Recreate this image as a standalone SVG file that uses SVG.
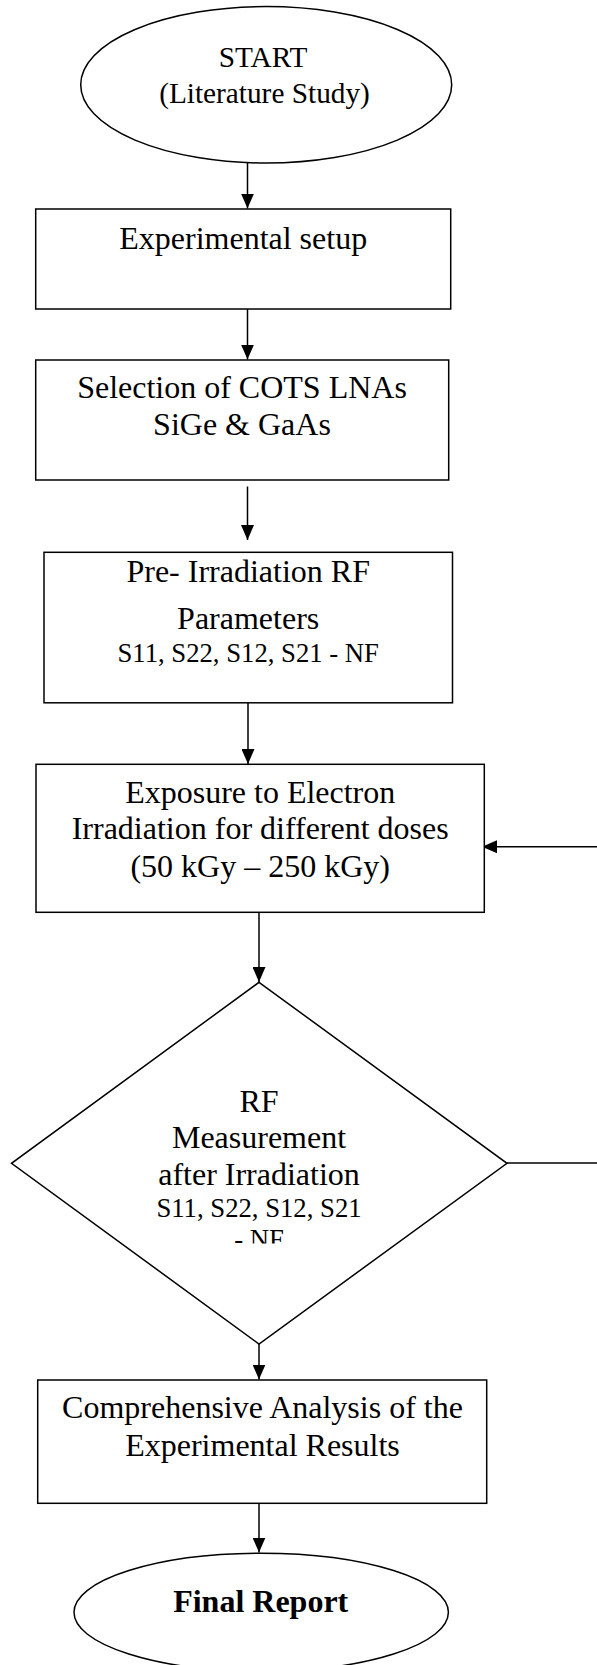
<svg xmlns="http://www.w3.org/2000/svg" width="597" height="1665" viewBox="0 0 597 1665">
<style>
  .shape { fill: #ffffff; stroke: #000000; stroke-width: 1.5; }
  .conn { fill: none; stroke: #000000; stroke-width: 1.5; }
  .t { font-family: "Liberation Serif", "Times New Roman", serif; fill: #000000; text-anchor: middle; }
  .big { font-size: 32px; }
  .mid { font-size: 29.3px; }
  .small { font-size: 26.7px; }
  .bold { font-weight: bold; }
</style>
<defs>
  <marker id="arrow" markerUnits="userSpaceOnUse" markerWidth="15" markerHeight="13" refX="15" refY="6.5" orient="auto">
    <path d="M0,0 L15,6.5 L0,13 Z" fill="#000000"/>
  </marker>
  <clipPath id="diamondTextClip">
    <rect x="100" y="1070" width="320" height="173.5"/>
  </clipPath>
</defs>
<rect x="0" y="0" width="597" height="1665" fill="#ffffff"/>

<g id="connectors">
  <path class="conn" d="M247.5,163 V208.5" marker-end="url(#arrow)"/>
  <path class="conn" d="M247.5,309 V359.5" marker-end="url(#arrow)"/>
  <path class="conn" d="M247.5,486.5 V540" marker-end="url(#arrow)"/>
  <path class="conn" d="M248,703 V764" marker-end="url(#arrow)"/>
  <path class="conn" d="M259,912.5 V982" marker-end="url(#arrow)"/>
  <path class="conn" d="M259,1344 V1379.5" marker-end="url(#arrow)"/>
  <path class="conn" d="M259,1503.5 V1552.5" marker-end="url(#arrow)"/>
  <path class="conn" d="M598,846.7 H482" marker-end="url(#arrow)"/>
  <path class="conn" d="M507,1163 H598"/>
</g>

<g id="start">
  <ellipse class="shape" cx="266.2" cy="84.8" rx="185.5" ry="78.2"/>
  <text class="t mid" x="263" y="66.7">START</text>
  <text class="t mid" x="264.5" y="103.3">(Literature Study)</text>
</g>

<g id="experimental-setup">
  <rect class="shape" x="35.7" y="209" width="415" height="100"/>
  <text class="t big" x="243.2" y="249">Experimental setup</text>
</g>

<g id="selection">
  <rect class="shape" x="35.7" y="360" width="413" height="120"/>
  <text class="t big" x="242" y="398.3">Selection of COTS LNAs</text>
  <text class="t big" x="242" y="435">SiGe &amp; GaAs</text>
</g>

<g id="pre-irradiation">
  <rect class="shape" x="44" y="552.3" width="408.5" height="150.5"/>
  <text class="t big" x="248.2" y="581.7">Pre- Irradiation RF</text>
  <text class="t big" x="248.2" y="629.3">Parameters</text>
  <text class="t small" x="248.2" y="661.7">S11, S22, S12, S21 - NF</text>
</g>

<g id="exposure">
  <rect class="shape" x="36" y="764.3" width="448.3" height="148"/>
  <text class="t big" x="260.2" y="802.7">Exposure to Electron</text>
  <text class="t big" x="260.2" y="839.3">Irradiation for different doses</text>
  <text class="t big" x="260.2" y="876.7">(50 kGy – 250 kGy)</text>
</g>

<g id="rf-measurement">
  <polygon class="shape" points="259,982.3 507,1163.3 259,1344 11.5,1163.3"/>
  <text class="t big" x="259" y="1111.7">RF</text>
  <text class="t big" x="259" y="1148.3">Measurement</text>
  <text class="t big" x="259" y="1185">after Irradiation</text>
  <text class="t small" x="259" y="1216.7">S11, S22, S12, S21</text>
  <g clip-path="url(#diamondTextClip)">
    <text class="t small" x="259" y="1247.5">- NF</text>
  </g>
</g>

<g id="analysis">
  <rect class="shape" x="37.7" y="1380" width="449" height="123.3"/>
  <text class="t big" x="262.5" y="1418.3">Comprehensive Analysis of the</text>
  <text class="t big" x="262.5" y="1455.7">Experimental Results</text>
</g>

<g id="final-report">
  <ellipse class="shape" cx="261.2" cy="1612.3" rx="187.2" ry="59"/>
  <text class="t big bold" x="260.7" y="1611.7">Final Report</text>
</g>
</svg>
